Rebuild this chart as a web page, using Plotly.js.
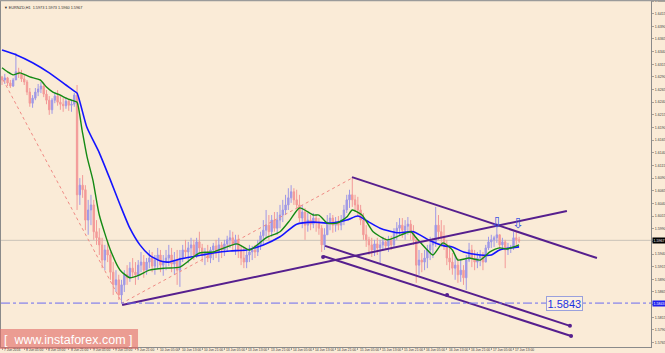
<!DOCTYPE html>
<html>
<head>
<meta charset="utf-8">
<script src="https://cdn.plot.ly/plotly-3.0.1.min.js"></script>
<style>html,body{margin:0;padding:0;background:#faebd7;}#chart{width:665px;height:353px;}</style>
</head>
<body>
<div id="chart"></div>
<script>
// ---- data (EURNZD, H1) ----
const closes = [
1.6284,1.6288,1.6278,1.6272,1.6284,1.6300,1.6296,1.6286,1.6280,1.6260,
1.6238,1.6248,1.6260,1.6266,1.6272,1.6256,1.6244,1.6225,1.6244,1.6252,
1.6240,1.6236,1.6233,1.6242,1.6234,1.6236,1.6254,1.6057,1.6076,1.6067,
1.6007,1.6027,1.6037,1.5984,1.5972,1.5958,1.5928,1.5948,1.5938,1.5904,
1.5879,1.5889,1.5859,1.5879,1.5899,1.5893,1.5912,1.5904,1.5899,1.5918,
1.5924,1.5908,1.5924,1.5932,1.5916,1.5928,1.5938,1.5918,1.5924,1.5932,
1.5938,1.5920,1.5928,1.5908,1.5932,1.5948,1.5944,1.5952,1.5958,1.5938,
1.5964,1.5952,1.5938,1.5944,1.5932,1.5948,1.5956,1.5944,1.5958,1.5948,
1.5960,1.5968,1.5972,1.5958,1.5968,1.5948,1.5932,1.5924,1.5938,1.5944,
1.5948,1.5944,1.5958,1.5976,1.5987,1.5997,1.5984,1.6007,1.5991,1.6007,
1.6017,1.6027,1.6037,1.6051,1.6063,1.6047,1.6037,1.6011,1.6023,1.5997,
1.6007,1.5999,1.6011,1.6003,1.5991,1.5958,1.5978,1.6003,1.6011,1.5997,
1.6003,1.5997,1.6007,1.6027,1.6047,1.6057,1.6047,1.6037,1.6027,1.6007,
1.5978,1.5968,1.5958,1.5948,1.5960,1.5952,1.5958,1.5964,1.5956,1.5968,
1.5958,1.5984,1.5991,1.5997,1.5987,1.5995,1.5999,1.5984,1.5968,1.5918,
1.5928,1.5924,1.5932,1.5948,1.5958,1.5964,1.5997,1.5984,1.5972,1.5958,
1.5932,1.5924,1.5912,1.5918,1.5899,1.5908,1.5893,1.5928,1.5948,1.5932,
1.5924,1.5932,1.5938,1.5924,1.5952,1.5964,1.5968,1.5972,1.5978,1.5958,
1.5964,1.5948,1.5952,1.5954,1.5972,1.5968,1.5966];
const highs = [
1.6292,1.6296,1.6290,1.6284,1.6288,1.6337,1.6308,1.6304,1.6296,1.6284,
1.6268,1.6254,1.6268,1.6276,1.6280,1.6278,1.6264,1.6252,1.6248,1.6260,
1.6264,1.6254,1.6248,1.6250,1.6246,1.6244,1.6258,1.6274,1.6090,1.6096,
1.6076,1.6047,1.6057,1.6047,1.6007,1.5991,1.5972,1.5958,1.5968,1.5944,
1.5924,1.5908,1.5899,1.5889,1.5908,1.5918,1.5924,1.5932,1.5924,1.5928,
1.5944,1.5938,1.5932,1.5948,1.5944,1.5938,1.5952,1.5948,1.5938,1.5948,
1.5958,1.5952,1.5944,1.5948,1.5948,1.5958,1.5968,1.5964,1.5972,1.5968,
1.5972,1.5984,1.5960,1.5952,1.5958,1.5954,1.5962,1.5968,1.5972,1.5964,
1.5968,1.5976,1.5987,1.5984,1.5978,1.5978,1.5958,1.5952,1.5948,1.5958,
1.5956,1.5958,1.5968,1.5984,1.6007,1.6027,1.6017,1.6017,1.6023,1.6023,
1.6037,1.6047,1.6057,1.6070,1.6076,1.6070,1.6067,1.6057,1.6037,1.6031,
1.6021,1.6017,1.6021,1.6017,1.6011,1.5997,1.5991,1.6017,1.6021,1.6017,
1.6013,1.6015,1.6017,1.6037,1.6057,1.6067,1.6092,1.6057,1.6053,1.6037,
1.6021,1.5997,1.5974,1.5972,1.5968,1.5972,1.5968,1.5974,1.5972,1.5976,
1.5976,1.5991,1.6003,1.6011,1.6011,1.6007,1.6013,1.6007,1.5997,1.5974,
1.5948,1.5942,1.5948,1.5958,1.5974,1.5972,1.6033,1.6017,1.6007,1.5997,
1.5968,1.5958,1.5942,1.5938,1.5932,1.5928,1.5918,1.5938,1.5962,1.5958,
1.5948,1.5944,1.5948,1.5944,1.5958,1.5974,1.5978,1.5976,1.6001,1.5978,
1.5972,1.5968,1.5962,1.5958,1.5984,1.5984,1.5974];
const lows = [
1.6274,1.6276,1.6272,1.6268,1.6270,1.6284,1.6288,1.6280,1.6274,1.6254,
1.6231,1.6229,1.6244,1.6252,1.6258,1.6250,1.6236,1.6215,1.6217,1.6238,
1.6233,1.6225,1.6221,1.6227,1.6223,1.6221,1.6231,1.6027,1.6037,1.6051,
1.5987,1.5978,1.5997,1.5968,1.5958,1.5938,1.5912,1.5908,1.5924,1.5889,
1.5859,1.5865,1.5849,1.5843,1.5865,1.5879,1.5885,1.5893,1.5879,1.5889,
1.5904,1.5893,1.5899,1.5912,1.5904,1.5899,1.5912,1.5904,1.5897,1.5908,
1.5916,1.5904,1.5899,1.5879,1.5875,1.5924,1.5932,1.5922,1.5936,1.5928,
1.5932,1.5944,1.5924,1.5918,1.5924,1.5922,1.5928,1.5932,1.5924,1.5932,
1.5936,1.5944,1.5952,1.5948,1.5938,1.5932,1.5918,1.5912,1.5912,1.5924,
1.5928,1.5932,1.5936,1.5948,1.5958,1.5972,1.5968,1.5974,1.5984,1.5978,
1.5991,1.6003,1.6017,1.6027,1.6041,1.6037,1.6031,1.6003,1.5991,1.5968,
1.5984,1.5987,1.5991,1.5984,1.5978,1.5944,1.5948,1.5978,1.5987,1.5982,
1.5984,1.5987,1.5987,1.5997,1.6021,1.6031,1.6033,1.6023,1.6013,1.5997,
1.5968,1.5954,1.5938,1.5934,1.5936,1.5938,1.5922,1.5948,1.5948,1.5944,
1.5948,1.5952,1.5968,1.5976,1.5972,1.5968,1.5978,1.5968,1.5958,1.5883,
1.5899,1.5904,1.5908,1.5912,1.5928,1.5932,1.5954,1.5968,1.5954,1.5948,
1.5918,1.5908,1.5899,1.5889,1.5883,1.5885,1.5879,1.5869,1.5924,1.5914,
1.5908,1.5912,1.5916,1.5908,1.5924,1.5948,1.5952,1.5954,1.5962,1.5948,
1.5948,1.5912,1.5938,1.5942,1.5948,1.5958,1.5962];
const firstOpen = 1.6290;

const timeLabels = ["7 Jun 2016","8 Jun 05:00","8 Jun 13:00","8 Jun 21:00","9 Jun 05:00","9 Jun 13:00",
"9 Jun 21:00","10 Jun 05:00","10 Jun 13:00","10 Jun 21:00","13 Jun 05:00","13 Jun 13:00","13 Jun 21:00",
"14 Jun 05:00","14 Jun 13:00","14 Jun 21:00","15 Jun 05:00","15 Jun 13:00","15 Jun 21:00","16 Jun 05:00",
"16 Jun 13:00","16 Jun 21:00","17 Jun 05:00","17 Jun 13:00"];
const barsPerLabel = 8;

// moving averages
const slowMaIdx = [0,5.4,11,17,23,26,27,30.5,35,39,42.5,46,49.6,53,57,60,64,70,76,82,88,94,100,106,112,118,124,128,132,136,142,148,154,159,162,166,172,176,179,186];
const slowMaVal = [1.6343,1.6333,1.6318,1.6298,1.6274,1.6262,1.6258,1.6191,1.6140,1.6086,1.6037,1.5991,1.5958,1.5938,1.5926,1.5924,1.5930,1.5936,1.5942,1.5946,1.5948,1.5958,1.5974,1.5999,1.6003,1.6001,1.6007,1.6015,1.6003,1.5991,1.5982,1.5984,1.5966,1.5956,1.5954,1.5944,1.5938,1.5938,1.5948,1.5954];
const fastMaIdx = [0,2,4,6.5,10,13.7,16,18.3,21,23,26,27,28.8,30.6,32.7,35,39,42.5,46,49.6,53,58.6,64,71,76,84.5,89,95,100,103.6,107,112,114,117,120.5,124,126,129.5,133.5,138.5,142,147,149,153,155,158.6,162,164,168,172,175.5,179,181.7,186];
const fastMaVal = [1.6308,1.6300,1.6294,1.6298,1.6290,1.6284,1.6270,1.6260,1.6254,1.6248,1.6242,1.6240,1.6185,1.6132,1.6086,1.6017,1.5948,1.5908,1.5893,1.5899,1.5908,1.5912,1.5914,1.5942,1.5944,1.5960,1.5948,1.5972,1.5984,1.6007,1.6031,1.6017,1.6017,1.6001,1.6001,1.6013,1.6027,1.6017,1.5984,1.5968,1.5974,1.5984,1.5972,1.5948,1.5938,1.5962,1.5948,1.5928,1.5932,1.5928,1.5944,1.5952,1.5950,1.5958];

// analyst drawings
const risingLineIdx = [43.2, 203.2], risingLineVal = [1.5839, 1.6025];
const chanTopIdx = [125.9, 214.0], chanTopVal = [1.6092, 1.5932];
const chanMidIdx = [116.2, 204.3], chanMidVal = [1.5956, 1.5798];
const chanBotIdx = [115.5, 204.7], chanBotVal = [1.5936, 1.5778];
const anchorIdx = [115.5, 160.1], anchorVal = [1.5934, 1.5859];
const zigzagIdx = [0.4, 43.2, 125.9], zigzagVal = [1.6284, 1.5843, 1.6090];
const supportLevel = 1.5843;
const bidPrice = 1.5967;
const arrowIdx = [178, 185.6], arrowVal = [1.6003, 1.6001];
const titleText = "\u25BC EURNZD,H1  1.5973 1.5973 1.5960 1.5967";

// ---- build ----
const idx = closes.map((_, i) => i);
const opens = closes.map((c, i) => i === 0 ? firstOpen : closes[i - 1]);
const tickVals = timeLabels.map((_, k) => k * barsPerLabel);

const purple = "#561f8e";
const traces = [
  {type:"candlestick", x:idx, open:opens, high:highs, low:lows, close:closes,
   increasing:{line:{color:"#9f98e6", width:1}, fillcolor:"#9f98e6"},
   decreasing:{line:{color:"#f39a98", width:1}, fillcolor:"#f39a98"},
   whiskerwidth:0, hoverinfo:"skip"},
  {type:"scatter", mode:"lines", x:zigzagIdx, y:zigzagVal, line:{color:"#f08a84", width:1, dash:"dot"}},
  {type:"scatter", mode:"lines", x:slowMaIdx, y:slowMaVal, line:{color:"#1414ff", width:1.6, shape:"spline", smoothing:0.6}},
  {type:"scatter", mode:"lines", x:fastMaIdx, y:fastMaVal, line:{color:"#148a14", width:1.4, shape:"spline", smoothing:0.6}},
  {type:"scatter", mode:"lines", x:risingLineIdx, y:risingLineVal, line:{color:purple, width:2}},
  {type:"scatter", mode:"lines", x:chanTopIdx, y:chanTopVal, line:{color:purple, width:2}},
  {type:"scatter", mode:"lines", x:chanMidIdx, y:chanMidVal, line:{color:purple, width:2}},
  {type:"scatter", mode:"lines", x:chanBotIdx, y:chanBotVal, line:{color:purple, width:2}},
  {type:"scatter", mode:"markers", x:anchorIdx, y:anchorVal, marker:{color:purple, size:4}},
  {type:"scatter", mode:"markers", x:[chanBotIdx[1], chanMidIdx[1]], y:[chanBotVal[1], chanMidVal[1]], marker:{color:purple, size:4}}
];

const annotations = [
  {xref:"paper", yref:"paper", x:0.002, y:0.992, xanchor:"left", yanchor:"top", showarrow:false, text:titleText,
   font:{family:"Liberation Sans, Arial, sans-serif", size:3.8, color:"#303030"}},
  {xref:"x", yref:"y", x:202.5, y:supportLevel, showarrow:false, text:supportLevel.toFixed(4),
   font:{family:"Liberation Sans, Arial, sans-serif", size:11, color:"#1d33e0"},
   bordercolor:"#9aa0dc", borderwidth:1, borderpad:0.5, bgcolor:"#fcf0e0"},
  {xref:"paper", yref:"y", x:1.001, y:bidPrice, xanchor:"left", showarrow:false, text:bidPrice.toFixed(4),
   font:{family:"Liberation Sans, Arial, sans-serif", size:3.6, color:"#ffffff"}, bgcolor:"#000000", borderpad:0.6},
  {xref:"paper", yref:"y", x:1.001, y:supportLevel, xanchor:"left", showarrow:false, text:supportLevel.toFixed(4),
   font:{family:"Liberation Sans, Arial, sans-serif", size:3.6, color:"#ffffff"}, bgcolor:"#2020ee", borderpad:0.6},
  {xref:"x", yref:"y", x:arrowIdx[0], y:arrowVal[0], showarrow:false, text:"\u21E9",
   font:{family:"DejaVu Sans", size:14, color:"#3a56e0"}},
  {xref:"x", yref:"y", x:arrowIdx[1], y:arrowVal[1], showarrow:false, text:"\u21E9",
   font:{family:"DejaVu Sans", size:14, color:"#3a56e0"}}
];
// time labels, left-aligned right of each tick mark
timeLabels.forEach((t, k) => annotations.push({
  xref:"x", yref:"paper", x:tickVals[k] + 0.3, y:-0.0095, xanchor:"left", yanchor:"middle",
  showarrow:false, text:t, borderpad:0,
  font:{family:"Liberation Sans, Arial, sans-serif", size:3.3, color:"#404040"}
}));
annotations.push({xref:"paper", yref:"paper", x:0.104, y:0.020, xanchor:"center", yanchor:"middle", showarrow:false,
  text:"[ &nbsp;www.instaforex.com ]",
  font:{family:"Liberation Sans, Arial, sans-serif", size:12.5, color:"#ffffff"}});

const layout = {
  width:665, height:353,
  margin:{l:1, r:14, t:1, b:6},
  paper_bgcolor:"#faebd7", plot_bgcolor:"#faebd7",
  showlegend:false,
  xaxis:{range:[-0.36, 233.45], tickvals:tickVals, showticklabels:false,
    ticks:"outside", ticklen:2, tickcolor:"#707070", tickwidth:0.6,
    showgrid:false, zeroline:false, showline:true, linecolor:"#8a8a8a", linewidth:1, mirror:true,
    rangeslider:{visible:false}, fixedrange:true},
  yaxis:{range:[1.57562, 1.6440], side:"right", tick0:1.5765, dtick:0.0025, tickformat:".4f",
    ticks:"outside", ticklen:2, tickcolor:"#707070", tickwidth:0.6, ticklabeloverflow:"allow",
    tickfont:{family:"Liberation Sans, Arial, sans-serif", size:3.6, color:"#404040"},
    showgrid:false, zeroline:false, showline:true, linecolor:"#8a8a8a", linewidth:1, mirror:true,
    fixedrange:true},
  shapes:[
    {type:"line", xref:"paper", x0:0, x1:1, yref:"y", y0:bidPrice, y1:bidPrice, line:{color:"#c9c2b8", width:1}, layer:"below"},
    {type:"line", xref:"paper", x0:0, x1:1, yref:"y", y0:supportLevel, y1:supportLevel, line:{color:"#6a6af0", width:1, dash:"dashdot"}},
    {type:"rect", xref:"paper", yref:"paper", x0:-0.002, x1:0.2108, y0:-0.006, y1:0.052, fillcolor:"rgba(226,108,104,0.62)", line:{width:0}, layer:"above"},
    {type:"line", xref:"paper", yref:"paper", x0:-0.01, x1:1.03, y0:1.002, y1:1.002, line:{color:"#9a9a9a", width:2}}
  ],
  annotations: annotations
};

Plotly.newPlot("chart", traces, layout, {staticPlot:true, displayModeBar:false});
</script>
</body>
</html>
